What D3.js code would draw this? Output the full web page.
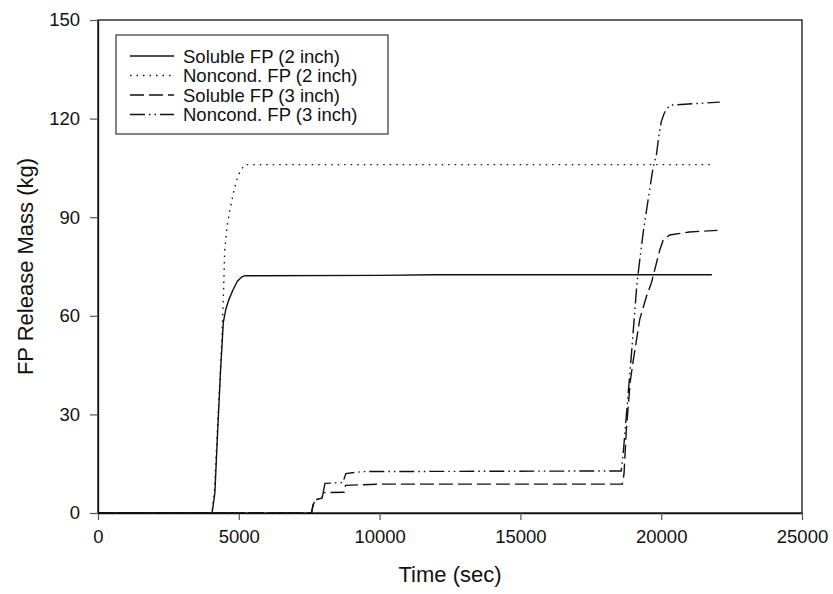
<!DOCTYPE html>
<html>
<head>
<meta charset="utf-8">
<script src="https://cdn.jsdelivr.net/npm/d3@7"></script>
<style>
  body { margin: 0; background: #fff; }
  text { font-family: "Liberation Sans", Arial, sans-serif; fill: #111; }
</style>
</head>
<body>
<div id="chart"></div>
<script>
// Data: [time (sec), mass (kg)]
const soluble2 = [[0,0],[4050,0],[4100,3],[4150,6],[4250,25],[4350,43],[4450,58],[4540,62],[4650,65],[4800,68],[4950,70.5],[5100,71.8],[5220,72.2],[10000,72.3],[12000,72.5],[21800,72.5]];
const noncond2 = [[0,0],[4050,0],[4130,6],[4260,29],[4345,43],[4405,54],[4460,68],[4500,80],[4580,87],[4680,92],[4800,97],[4910,101],[5050,104],[5210,106],[21750,106]];
const soluble3 = [[0,0],[7580,0],[7640,2.5],[7720,4],[7950,4.5],[8000,6.2],[8740,6.3],[8790,8.4],[10000,8.8],[18620,8.8],[18680,12],[18760,25],[18900,40],[19000,46],[19240,59],[19480,66],[19650,70],[19770,74],[19950,80],[20070,83],[20300,84.6],[21000,85.5],[22000,86]];
const noncond3 = [[0,0],[7580,0],[7640,2.5],[7720,4],[7960,4.6],[8060,9],[8700,9.3],[8800,12],[9400,12.6],[18580,12.8],[18650,18],[18765,30],[18940,48],[19140,70],[19240,77],[19355,85],[19530,95],[19710,105],[19830,109],[19920,115],[20000,119],[20100,121.5],[20200,123],[20320,124.1],[22080,125]];

const seriesNames = ["Soluble FP (2 inch)", "Noncond. FP (2 inch)", "Soluble FP (3 inch)", "Noncond. FP (3 inch)"];
const seriesData = [soluble2, noncond2, soluble3, noncond3];
const dashes = [null, "1.5,5", "14,5", "15,4,1.5,4,1.5,4"];

const xTicks = [0, 5000, 10000, 15000, 20000, 25000];
const yTicks = [0, 30, 60, 90, 120, 150];

function drawChart() {
    const width = 833;
    const height = 594;
    const margin = { top: 20, right: 31, bottom: 81, left: 98 };

    const svg = d3.select("#chart")
        .append("svg")
        .attr("width", width)
        .attr("height", height);

    const x = d3.scaleLinear()
        .domain([0, 25000])
        .range([margin.left, width - margin.right]);

    const y = d3.scaleLinear()
        .domain([0, 150])
        .range([height - margin.bottom, margin.top]);

    // frame
    svg.append("rect")
        .attr("x", margin.left)
        .attr("y", margin.top)
        .attr("width", x(25000) - x(0))
        .attr("height", y(0) - y(150))
        .attr("fill", "none")
        .attr("stroke", "#111")
        .attr("stroke-width", 1.3);

    // x axis
    const xAxis = svg.append("g")
        .attr("transform", `translate(0,${y(0)})`)
        .call(d3.axisBottom(x).tickValues(xTicks).tickFormat(d3.format("d"))
            .tickSize(7).tickPadding(10).tickSizeOuter(0));
    xAxis.select(".domain").attr("stroke", "#111").attr("stroke-width", 1.3);
    xAxis.selectAll(".tick line").attr("stroke", "#555").attr("stroke-width", 1.2);
    xAxis.selectAll("text").attr("font-size", 18.5).attr("fill", "#111");

    // y axis
    const yAxis = svg.append("g")
        .attr("transform", `translate(${x(0)},0)`)
        .call(d3.axisLeft(y).tickValues(yTicks).tickFormat(d3.format("d"))
            .tickSize(8).tickPadding(10).tickSizeOuter(0));
    yAxis.select(".domain").attr("stroke", "#111").attr("stroke-width", 1.3);
    yAxis.selectAll(".tick line").attr("stroke", "#555").attr("stroke-width", 1.2);
    yAxis.selectAll("text").attr("font-size", 18.5).attr("fill", "#111");

    // axis titles
    svg.append("text")
        .attr("x", (x(0) + x(25000)) / 2)
        .attr("y", 582)
        .attr("text-anchor", "middle")
        .attr("font-size", 22)
        .text("Time (sec)");

    svg.append("text")
        .attr("transform", `translate(33,${(y(0) + y(150)) / 2}) rotate(-90)`)
        .attr("text-anchor", "middle")
        .attr("font-size", 22)
        .text("FP Release Mass (kg)");

    // lines
    const line = d3.line()
        .x(d => x(d[0]))
        .y(d => y(d[1]));

    svg.append("g")
        .selectAll("path")
        .data(seriesData)
        .join("path")
        .attr("d", line)
        .attr("fill", "none")
        .attr("stroke", "#111")
        .attr("stroke-width", 1.4)
        .attr("stroke-dasharray", (d, i) => dashes[i]);

    // legend
    const legend = svg.append("g");
    legend.append("rect")
        .attr("x", 116)
        .attr("y", 35)
        .attr("width", 272)
        .attr("height", 99)
        .attr("fill", "#fff")
        .attr("stroke", "#333")
        .attr("stroke-width", 1.2);

    const rows = legend.selectAll("g.row")
        .data(seriesNames)
        .join("g")
        .attr("class", "row")
        .attr("transform", (d, i) => `translate(0,${56 + i * 19.5})`);

    rows.append("line")
        .attr("x1", 130)
        .attr("x2", 174)
        .attr("y1", 0)
        .attr("y2", 0)
        .attr("stroke", "#111")
        .attr("stroke-width", 1.4)
        .attr("stroke-dasharray", (d, i) => dashes[i]);

    rows.append("text")
        .attr("x", 183)
        .attr("y", 0)
        .attr("dy", "0.36em")
        .attr("font-size", 18.5)
        .text(d => d);
}

document.addEventListener("DOMContentLoaded", drawChart);
</script>
</body>
</html>
